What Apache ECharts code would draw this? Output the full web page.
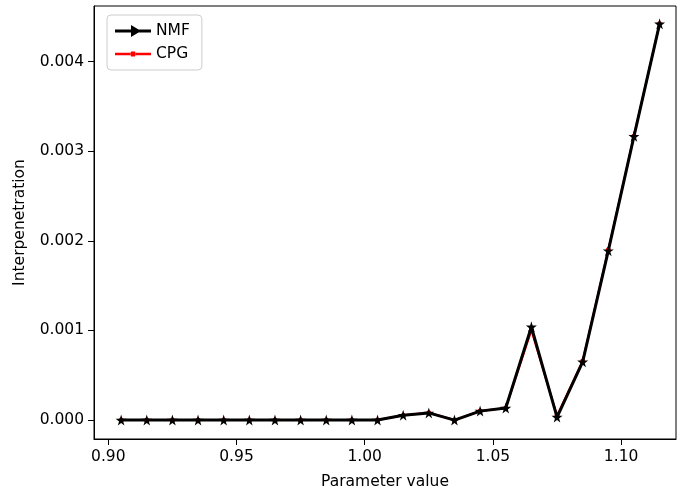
<!DOCTYPE html>
<html><head><meta charset="utf-8">
<script src="https://cdn.jsdelivr.net/npm/echarts@6/dist/echarts.min.js"></script>
<style>html,body{margin:0;padding:0;background:#fff}#c{width:677px;height:495px}</style>
</head><body><div id="c"></div>
<script>
const params = [0.905,0.915,0.925,0.935,0.945,0.955,0.965,0.975,0.985,0.995,1.005,1.015,1.025,1.035,1.045,1.055,1.065,1.075,1.085,1.095,1.105,1.115];
const nmf = [0,0,0,0,0,0,0,0,0,0,0,0.000055,0.00008,0.0,0.0001,0.000134,0.00104,0.000034,0.00065,0.00189,0.003165,0.00442];
const cpg = [0,0,0,0,0,0,0,0,0,0,0,0.000055,0.000082,0.0,0.000102,0.000136,0.00100,0.00005,0.00066,0.00190,0.00317,0.00442];
const xTicks = [0.90,0.95,1.00,1.05,1.10];
const yTicks = [0,0.001,0.002,0.003,0.004];

const star = 'path://M50,0 L61,35 L98,35 L68,57 L79,91 L50,70 L21,91 L32,57 L2,35 L39,35 Z';
const font = 'DejaVu Sans';
const fs = 15.5;
const chart = echarts.init(document.getElementById('c'));
chart.setOption({
  animation:false,
  grid:{left:94,right:1,top:6,bottom:54,show:true,borderColor:'#000',borderWidth:1,backgroundColor:'transparent'},
  legend:{
    left:107,top:15,orient:'vertical',itemGap:7,
    borderColor:'#ccc',borderWidth:1,borderRadius:4,padding:[8,12,8,8],
    itemWidth:36,itemHeight:12,
    textStyle:{fontFamily:font,fontSize:fs,color:'#000'},
    data:[
      {name:'NMF',icon:'path://M0,4.6 L36,4.6 L36,7.4 L0,7.4 Z M16,0 L26,6 L16,12 Z',itemStyle:{color:'#000'}},
      {name:'CPG',icon:'path://M0,4.7 L15,4.7 L15,7.3 L0,7.3 Z M21,4.7 L36,4.7 L36,7.3 L21,7.3 Z M15,6 L16,3.5 L20,3.5 L21,6 L20,8.5 L16,8.5 Z',itemStyle:{color:'#f00'}}
    ]
  },
  xAxis:{
    type:'value',min:0.89442,max:1.1214,
    name:'Parameter value',nameLocation:'middle',nameGap:35,
    nameTextStyle:{fontFamily:font,fontSize:fs,color:'#000'},
    axisLine:{show:true,onZero:false,lineStyle:{color:'#000'}},
    axisTick:{show:true,length:6,lineStyle:{color:'#000'},customValues:xTicks},
    axisLabel:{fontFamily:font,fontSize:fs,color:'#000',margin:10,customValues:xTicks,formatter:v=>v.toFixed(2)},
    splitLine:{show:false}
  },
  yAxis:{
    type:'value',min:-0.000211,max:0.004619,
    name:'Interpenetration',nameLocation:'middle',nameGap:66,
    nameTextStyle:{fontFamily:font,fontSize:fs,color:'#000'},
    axisLine:{show:true,onZero:false,lineStyle:{color:'#000'}},
    axisTick:{show:true,length:6,lineStyle:{color:'#000'},customValues:yTicks},
    axisLabel:{fontFamily:font,fontSize:fs,color:'#000',margin:10,customValues:yTicks,formatter:v=>v.toFixed(3)},
    splitLine:{show:false}
  },
  series:[
    {name:'CPG',type:'line',data:params.map((x,i)=>[x,cpg[i]]),symbol:'circle',symbolSize:5,
     lineStyle:{color:'#f00',width:2},itemStyle:{color:'#f00'},z:2},
    {name:'NMF',type:'line',data:params.map((x,i)=>[x,nmf[i]]),symbol:star,symbolSize:11,
     lineStyle:{color:'#000',width:3},itemStyle:{color:'#000'},z:3}
  ]
});
</script></body></html>
